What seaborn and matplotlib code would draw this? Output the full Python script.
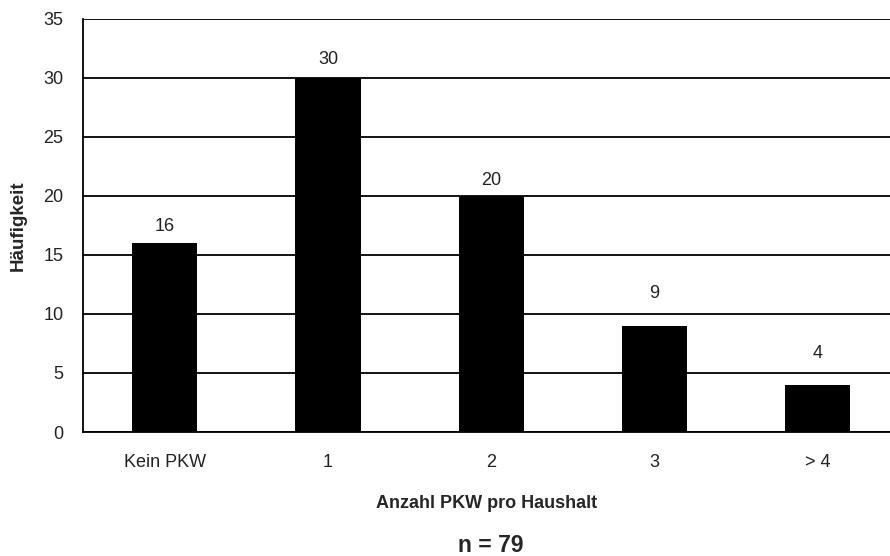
import matplotlib
matplotlib.use("Agg")
import matplotlib.pyplot as plt
import seaborn as sns
import pandas as pd

# Daten
kategorien = ["Kein PKW", "1", "2", "3", "> 4"]
haeufigkeit = [16, 30, 20, 9, 4]
y_ticks = [0, 5, 10, 15, 20, 25, 30, 35]

df = pd.DataFrame({"kat": kategorien, "n": haeufigkeit})

sns.set_style("white")
plt.rcParams["font.family"] = ["Liberation Sans", "DejaVu Sans"]

fig = plt.figure(figsize=(8.9, 5.56), dpi=100)
ax = fig.add_axes([0.0933, 0.223, 0.9067, 0.743])

sns.barplot(data=df, x="kat", y="n", color="black", width=0.4,
            saturation=1, edgecolor="black", linewidth=0, ax=ax, zorder=3)

ax.set_ylim(0, 35)
ax.set_xlim(-0.5, 4.443)
ax.set_yticks(y_ticks)
ax.yaxis.grid(True, color="black", linewidth=1.3, zorder=0)
ax.set_axisbelow(True)

for s in ["top", "right"]:
    ax.spines[s].set_visible(False)
for s in ["left", "bottom"]:
    ax.spines[s].set_color("black")
    ax.spines[s].set_linewidth(1.3)

ax.tick_params(axis="both", length=0, labelsize=13, colors="#222222")
ax.tick_params(axis="x", pad=16)
ax.tick_params(axis="y", pad=14)

# Werte über den Balken (Abstand wie im Original etwas unregelmäßig)
abstand = [0.7, 0.8, 0.6, 2.0, 1.9]
for i, v in enumerate(haeufigkeit):
    ax.text(i, v + abstand[i], str(v), ha="center", va="bottom", fontsize=13, color="#222222")

ax.set_xlabel("Anzahl PKW pro Haushalt", fontsize=13, fontweight="bold", labelpad=17)
ax.set_ylabel("Häufigkeit", fontsize=13.5, fontweight="bold", labelpad=12)

fig.text(0.551, 0.018, "n = 79", ha="center", va="center", fontsize=16.5, fontweight="bold")

fig.savefig("out.png", dpi=100)
